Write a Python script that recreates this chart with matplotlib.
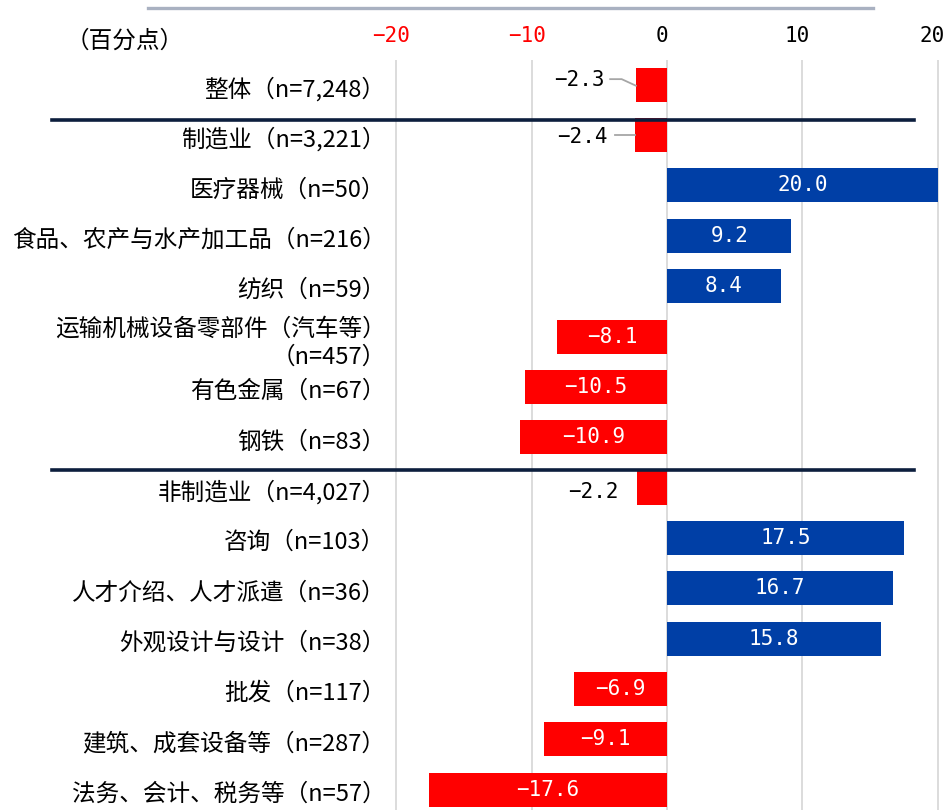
import matplotlib
matplotlib.use("Agg")
import matplotlib.pyplot as plt
import matplotlib.transforms as mtransforms
from matplotlib.lines import Line2D

plt.rcParams['font.family'] = ['Noto Sans CJK SC', 'DejaVu Sans']

categories = [
    "整体（n=7,248）",
    "制造业（n=3,221）",
    "医疗器械（n=50）",
    "食品、农产与水产加工品（n=216）",
    "纺织（n=59）",
    "运输机械设备零部件（汽车等）\n（n=457）",
    "有色金属（n=67）",
    "钢铁（n=83）",
    "非制造业（n=4,027）",
    "咨询（n=103）",
    "人才介绍、人才派遣（n=36）",
    "外观设计与设计（n=38）",
    "批发（n=117）",
    "建筑、成套设备等（n=287）",
    "法务、会计、税务等（n=57）",
]
values = [-2.3, -2.4, 20.0, 9.2, 8.4, -8.1, -10.5, -10.9,
          -2.2, 17.5, 16.7, 15.8, -6.9, -9.1, -17.6]
xticks = [-20, -10, 0, 10, 20]
xtick_labels = ["−20", "−10", "0", "10", "20"]
unit_label = "（百分点）"

RED = "#ff0000"
BLUE = "#003fa6"
NAVY = "#0c1e3d"
GRID = "#d9d9d9"

W, H = 948, 810
fig = plt.figure(figsize=(W / 100, H / 100), dpi=100)
ax = fig.add_axes([380 / W, 0, 565 / W, (H - 60) / H])

ypos = list(range(len(values)))
colors = [RED if v < 0 else BLUE for v in values]
ax.barh(ypos, values, height=0.675, color=colors, zorder=3)

ax.set_xlim(-(667 - 380) / 13.53, (945 - 667) / 13.53)
ax.set_ylim(14.40, -0.49)

ax.xaxis.tick_top()
ax.set_xticks(xticks)
ax.set_xticklabels(xtick_labels, family=['DejaVu Sans Mono'], fontsize=15)
ax.tick_params(axis='x', length=0, pad=10)
xshift = mtransforms.ScaledTranslation(-5 / 100, 0, fig.dpi_scale_trans)
for tick, t in zip(ax.xaxis.get_major_ticks(), xticks):
    tick.label2.set_color(RED if t < 0 else "black")
    tick.label2.set_transform(tick.label2.get_transform() + xshift)
ax.grid(axis='x', color=GRID, linewidth=1.3, zorder=0)

ax.set_yticks(ypos)
ax.set_yticklabels(categories, fontsize=17, linespacing=1.25)
ax.tick_params(axis='y', length=0, pad=-4)
shift = mtransforms.ScaledTranslation(0, -2 / 100, fig.dpi_scale_trans)
for lab in ax.get_yticklabels():
    lab.set_transform(lab.get_transform() + shift)
for s in ax.spines.values():
    s.set_visible(False)

mono = ['DejaVu Sans Mono']
for y, v in zip(ypos, values):
    if abs(v) < 3:
        continue
    txt = f"{v:.1f}".replace("-", "−")
    ax.text(v / 2, y, txt, ha='center', va='center', color='white',
            fontsize=15, family=mono, zorder=4)

# small values: labels placed outside the bars, with leader lines
ax.text(-4.6, -0.09, "−2.3", ha='right', va='center', fontsize=15, family=mono)
ax.add_line(Line2D([-4.2, -3.35, -2.3], [-0.11, -0.11, 0.02],
                   color="#a6a6a6", lw=1.3, zorder=4))
ax.text(-4.4, 1.04, "−2.4", ha='right', va='center', fontsize=15, family=mono)
ax.add_line(Line2D([-3.85, -2.4], [1, 1], color="#a6a6a6", lw=1.3, zorder=4))
ax.text(-3.6, 8.09, "−2.2", ha='right', va='center', fontsize=15, family=mono)

# group separators spanning the label column
for yb in (0.70, 7.65):
    ax.add_line(Line2D([(52 - 380) / 565, (914 - 380) / 565], [yb, yb],
                       transform=ax.get_yaxis_transform(), color=NAVY,
                       lw=2.6, clip_on=False, zorder=5))

# decorative rule at the top of the figure
fig.add_artist(Line2D([148 / W, 873 / W], [1 - 8 / H, 1 - 8 / H],
                      color="#a9b1c1", lw=2.4))
fig.text(66 / W, 1 - 41 / H, unit_label, fontsize=17, ha='left', va='center')

fig.savefig("out.png", dpi=100)
